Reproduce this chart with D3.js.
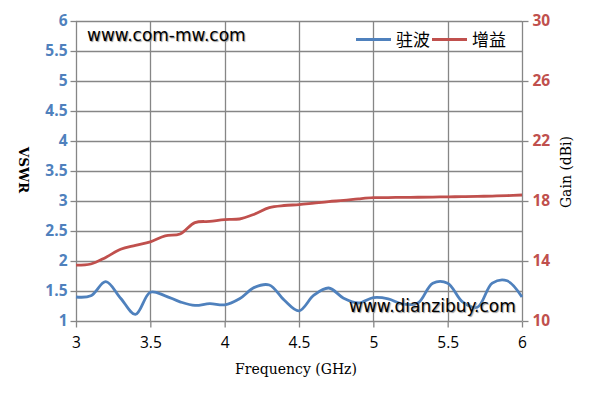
<!DOCTYPE html>
<html><head><meta charset="utf-8">
<script src="https://cdn.jsdelivr.net/npm/d3@7"></script>
<style>body{margin:0;background:#fff}svg{display:block}</style>
</head><body>
<svg id="c" width="594" height="403"></svg>
<script>
const freq = [3.0,3.1,3.2,3.3,3.4,3.5,3.6,3.7,3.8,3.9,4.0,4.1,4.2,4.3,4.4,4.5,4.6,4.7,4.8,4.9,5.0,5.1,5.2,5.3,5.4,5.5,5.6,5.7,5.8,5.9,6.0];
const vswr = [1.40,1.42,1.655,1.38,1.11,1.48,1.42,1.32,1.26,1.29,1.27,1.37,1.56,1.60,1.35,1.17,1.43,1.55,1.38,1.30,1.39,1.37,1.28,1.30,1.63,1.63,1.32,1.23,1.63,1.67,1.40];
const gain = [13.72,13.8,14.24,14.78,15.04,15.28,15.68,15.8,16.56,16.64,16.76,16.8,17.12,17.56,17.7,17.76,17.86,17.96,18.04,18.14,18.22,18.23,18.24,18.25,18.26,18.28,18.29,18.31,18.33,18.36,18.4];
const xTicks = [3,3.5,4,4.5,5,5.5,6];
const yLeftTicks = [1,1.5,2,2.5,3,3.5,4,4.5,5,5.5,6];
const yRightTicks = [10,14,18,22,26,30];
const seriesNames = ["驻波","增益"];
const colors = ["#4F81BD","#C0504D"];

const svg = d3.select("#c");
const L=76,R=522,T=21,B=321;
const x = d3.scaleLinear().domain([3,6]).range([L,R]);
const yL = d3.scaleLinear().domain([1,6]).range([B,T]);
const yR = d3.scaleLinear().domain([10,30]).range([B,T]);
const grid="#868686";

// grid
svg.append("g").selectAll("line").data(yLeftTicks).join("line")
  .attr("x1",L).attr("x2",R).attr("y1",d=>Math.round(yL(d))+0.5).attr("y2",d=>Math.round(yL(d))+0.5)
  .attr("stroke",grid).attr("stroke-width",1.3);
svg.append("g").selectAll("line").data(xTicks).join("line")
  .attr("x1",d=>Math.round(x(d))+0.5).attr("x2",d=>Math.round(x(d))+0.5).attr("y1",T).attr("y2",B)
  .attr("stroke",grid).attr("stroke-width",1.3);

// axes
const axL = svg.append("g").attr("transform",`translate(${L+0.5},0)`)
  .call(d3.axisLeft(yL).tickValues(yLeftTicks).tickSize(6).tickPadding(3).tickFormat(d3.format("")));
axL.select(".domain").remove();
axL.selectAll("line").attr("stroke",grid).attr("stroke-width",1.3);
axL.selectAll("text").attr("fill",colors[0]).attr("font-family","'Open Sans',sans-serif").attr("font-weight","bold").attr("font-size","15.5px");

const axR = svg.append("g").attr("transform",`translate(${R+0.5},0)`)
  .call(d3.axisRight(yR).tickValues(yRightTicks).tickSize(6).tickPadding(4));
axR.select(".domain").remove();
axR.selectAll("line").attr("stroke",grid).attr("stroke-width",1.3);
axR.selectAll("text").attr("fill",colors[1]).attr("font-family","'Open Sans',sans-serif").attr("font-weight","bold").attr("font-size","15.5px");

const axB = svg.append("g").attr("transform",`translate(0,${B+0.5})`)
  .call(d3.axisBottom(x).tickValues(xTicks).tickSize(6).tickPadding(9).tickFormat(d3.format("")));
axB.select(".domain").remove();
axB.selectAll("line").attr("stroke",grid).attr("stroke-width",1.3);
axB.selectAll("text").attr("fill","#000").attr("font-family","'Open Sans',sans-serif").attr("font-size","15.5px");

// lines
const lineL = d3.line().x((d,i)=>x(freq[i])).y(d=>yL(d)).curve(d3.curveCatmullRom.alpha(0.5));
const lineR = d3.line().x((d,i)=>x(freq[i])).y(d=>yR(d)).curve(d3.curveCatmullRom.alpha(0.5));
svg.append("path").datum(gain).attr("d",lineR).attr("fill","none").attr("stroke",colors[1]).attr("stroke-width",2.8).attr("stroke-linejoin","round");
svg.append("path").datum(vswr).attr("d",lineL).attr("fill","none").attr("stroke",colors[0]).attr("stroke-width",2.8).attr("stroke-linejoin","round");

// axis titles
const serif="'DejaVu Serif','Liberation Serif',serif";
svg.append("text").attr("transform","translate(296,374)").attr("text-anchor","middle")
  .attr("font-family",serif).attr("font-size","14px").attr("fill","#000").text("Frequency (GHz)");
svg.append("text").attr("transform","translate(19,170) rotate(90)").attr("text-anchor","middle")
  .attr("font-family",serif).attr("font-size","13.5px").attr("font-weight","bold").attr("fill","#000").text("VSWR");
svg.append("text").attr("transform","translate(571,172) rotate(-90)").attr("text-anchor","middle")
  .attr("font-family",serif).attr("font-size","14px").attr("fill","#000").text("Gain (dBi)");

// legend
const lg = svg.append("g");
const lx=[356,432];
seriesNames.forEach((n,i)=>{
  lg.append("line").attr("x1",lx[i]).attr("x2",lx[i]+35).attr("y1",39.5).attr("y2",39.5).attr("stroke",colors[i]).attr("stroke-width",2.8);
  lg.append("text").attr("x",lx[i]+40).attr("y",46).attr("font-family","'Noto Sans CJK SC',sans-serif").attr("font-size","17px").attr("fill","#000").text(n);
});

// watermarks
svg.append("text").attr("x",87).attr("y",41).attr("font-family","'DejaVu Sans',sans-serif").attr("font-size","17px")
  .attr("fill","#000").style("text-shadow","1px 1px 1px #999").text("www.com-mw.com");
svg.append("text").attr("x",349).attr("y",312).attr("font-family","'DejaVu Sans',sans-serif").attr("font-size","17px")
  .attr("fill","#000").style("text-shadow","1px 1px 1px #999").text("www.dianzibuy.com");
</script>
</body></html>
